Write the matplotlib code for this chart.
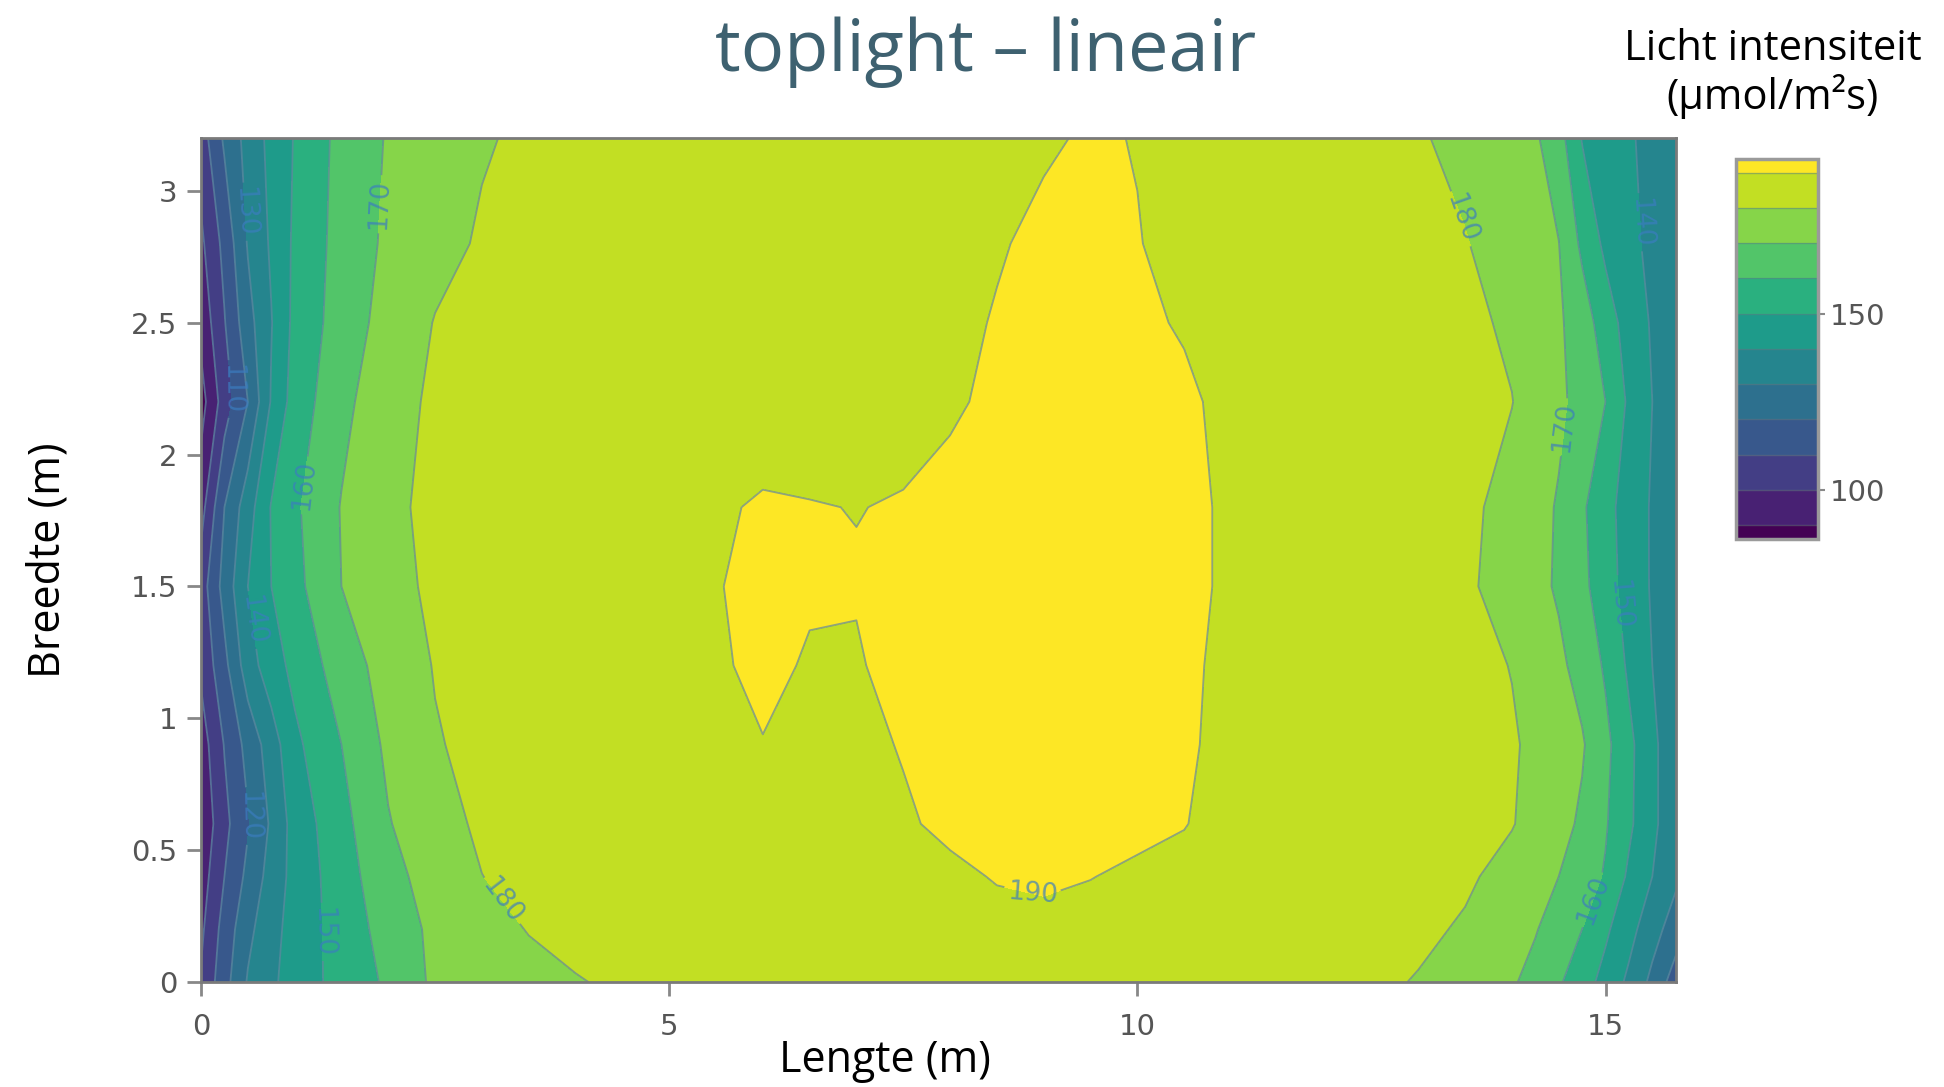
import matplotlib
matplotlib.use("Agg")
import matplotlib.pyplot as plt
import numpy as np

# grid: length (m) along x, width (m) along y
lengte = [0, 0.25, 0.5, 0.75, 1.0, 1.5, 2.0, 2.5, 3.0, 3.5, 4.0,
          5.0, 5.5, 6.0, 6.5, 7.0, 7.5, 8.0, 8.5, 9.0, 9.5, 10.0, 10.5, 11.0, 12.0,
          12.5, 13.0, 13.5, 14.0, 14.25, 14.5, 14.75, 15.0, 15.25, 15.5, 15.75]
breedte = [0, 0.2, 0.4, 0.6, 0.9, 1.2, 1.5, 1.8, 2.2, 2.5, 2.8, 3.2]

# light intensity (umol/m2s), one list per row of width
z_y00 = [101, 116.3, 130.9, 138.2, 144.3, 153.7, 161.6, 172, 174, 177, 179.6,
         182.5, 183.5, 184.5, 185, 185.5, 186, 186.5, 187, 187, 187, 186.5, 186, 185.5, 184,
         182, 179.4, 175.2, 171.0, 167, 161.2, 154.3, 146.7, 138, 127.5, 115]
z_y02 = [98, 113.9, 127.4, 136.7, 143.8, 154.2, 164.0, 172.3, 176.4, 180.4, 182,
         184, 185, 186, 186.5, 187, 187.5, 188, 188.5, 189, 188.6, 188, 187.5, 186.5, 185,
         183.5, 182, 178.9, 173.3, 170.6, 165.6, 160, 151.7, 143.3, 134, 125]
z_y04 = [95, 110, 122.5, 134, 143.3, 155.4, 166.7, 174.3, 179.9, 182.5, 184,
         185.5, 186.5, 187, 187.5, 188, 188.5, 189, 190.3, 190.6, 190.1, 189.3, 188.5, 187.5, 186,
         184.5, 183, 181.5, 176.7, 173.3, 170, 164.8, 159.1, 148.3, 140, 132]
z_y06 = [92, 107.2, 119.1, 131.5, 144, 156.9, 169.4, 176.6, 181.5, 183.5, 185,
         186.5, 187, 187.8, 188.3, 188.8, 189.4, 191, 191.8, 192, 191.8, 191, 190.2, 188, 187,
         185.5, 184, 182.5, 180.5, 176.9, 173.1, 168.5, 160.9, 151.9, 142, 134]
z_y09 = [95, 110.5, 123.3, 135, 147.8, 160, 172, 179.3, 182.5, 184.5, 185.5,
         187, 189, 189.85, 189.5, 188.8, 190.3, 192, 192.8, 193, 193, 192.5, 191, 188, 187.5,
         186, 184.5, 183, 181, 178.1, 174.6, 171, 162.5, 152.5, 142, 134]
z_y12 = [102, 117.2, 135.3, 145.6, 152.7, 164.9, 174.2, 180.5, 183, 185, 186,
         187.5, 189.4, 191, 189.6, 189.6, 191.5, 192.5, 193.2, 193.5, 193.5, 193, 191.5, 188, 188,
         186.5, 185, 183, 179.7, 175.8, 172, 166.5, 158.7, 148.3, 140, 134]
z_y15 = [105, 123.8, 140, 150, 157.1, 170, 177.4, 181.5, 184, 186, 187,
         188, 189.7, 191.5, 190.5, 190.3, 191.8, 193, 193.6, 194, 194, 193.5, 191.5, 189, 188,
         186, 184, 181.5, 176.2, 172.7, 168.8, 162.5, 154.4, 146.1, 139, 134]
z_y18 = [96, 120, 135.6, 150.6, 158.4, 170.5, 178.2, 182, 184.5, 186.5, 187.5,
         188, 189.4, 190.5, 190.2, 189.9, 190.3, 191.5, 192.5, 193.5, 193.8, 193.5, 191.5, 189, 188,
         186, 184, 182, 177, 173.3, 169.1, 161.5, 153.3, 145.7, 139, 134]
z_y22 = [86, 105, 120, 140.8, 154.4, 167.3, 176.6, 181.5, 184, 186, 187,
         187.5, 187.8, 187.5, 187.5, 187.8, 188.5, 189.3, 191, 192.5, 193, 192.5, 191, 188.5, 187.5,
         186, 184.5, 182.5, 180.2, 176.2, 172, 166.6, 160, 148.3, 140, 133]
z_y25 = [93, 109.4, 126.3, 139.5, 152.6, 164.7, 173.7, 180.4, 183.3, 185.5, 186.5,
         187, 187, 187, 187, 187.3, 187.8, 188.5, 190.4, 192, 192.3, 191, 189.5, 188, 187,
         185.5, 184, 182, 178.6, 175, 171.4, 165, 155, 145.7, 139, 133]
z_y28 = [98, 112.9, 130.8, 141.4, 151.7, 163.8, 171.8, 177.1, 181, 183.5, 185,
         186, 186.3, 186.5, 186.7, 187, 187.5, 188.2, 189.5, 191.2, 191.5, 190.2, 188.5, 187.5, 186,
         184.5, 183, 180.5, 175.4, 172.8, 170.2, 158, 147.8, 142.2, 138, 132]
z_y32 = [105, 121.6, 133.6, 142.8, 150.6, 163.1, 170.8, 175, 179.2, 181.5, 183,
         184.5, 185, 185.5, 186, 186.5, 187, 187.5, 188.3, 189.3, 190.6, 189.8, 188, 187, 184.5,
         183, 181, 177.2, 173.2, 171.3, 164, 149.5, 145.2, 141.2, 137, 131]

contour_levels = list(range(90, 200, 10))
cbar_ticks = [100, 150]

# where the line labels sit in the original
label_spots = [(0.43, 2.92), (0.39, 2.25), (1.16, 1.88), (1.86, 2.95), (0.5, 1.37),
               (0.54, 0.63), (1.26, 0.19), (3.15, 0.29), (8.9, 0.36), (13.43, 2.89),
               (14.64, 2.1), (15.08, 1.43), (14.95, 0.3), (15.33, 2.88)]

Z = np.array([z_y00, z_y02, z_y04, z_y06, z_y09, z_y12, z_y15, z_y18,
              z_y22, z_y25, z_y28, z_y32])
X, Y = np.meshgrid(lengte, breedte)

levels = [Z.min()] + contour_levels + [Z.max()]
band_colors = plt.cm.viridis(np.linspace(0, 1, len(levels) - 1))

fig = plt.figure(figsize=(19.44, 10.87), dpi=100)
ax = fig.add_axes([0.1034, 0.0966, 0.7586, 0.7764])

cf = ax.contourf(X, Y, Z, levels=levels, colors=band_colors)
cl = ax.contour(X, Y, Z, levels=contour_levels, colors="#5f86a0",
                linewidths=1.3, alpha=0.7)
lbls = ax.clabel(cl, fmt="%d", fontsize=19, colors="#3b7dc0",
                 inline=True, inline_spacing=4, manual=label_spots)

ax.set_xlim(0, 15.75)
ax.set_ylim(0, 3.2)
ax.set_xticks([0, 5, 10, 15])
ax.set_yticks([0, 0.5, 1, 1.5, 2, 2.5, 3])
ax.set_yticklabels(["0", "0.5", "1", "1.5", "2", "2.5", "3"])
ax.tick_params(axis="both", length=10, width=2, color="#888888",
               labelsize=21, labelcolor="#555555")
ax.tick_params(axis="x", pad=12)
ax.tick_params(axis="y", pad=7)
for s in ax.spines.values():
    s.set_color("#7a7a7a")
    s.set_linewidth(2)

fig.text(0.507, 0.952, "toplight \u2013 lineair", ha="center", va="center",
         fontsize=52, color="#3e6170", family="Open Sans")
fig.text(0.455, 0.024, "Lengte (m)", ha="center", va="center",
         fontsize=31, color="black", family="Open Sans")
fig.text(0.025, 0.485, "Breedte (m)", ha="center", va="center", rotation=90,
         fontsize=31, color="black", family="Open Sans")

# colorbar
cax = fig.add_axes([0.893, 0.504, 0.042, 0.35])
cb = fig.colorbar(cf, cax=cax, spacing="proportional", ticks=cbar_ticks,
                  drawedges=True)
cb.outline.set_edgecolor("#9a9a9a")
cb.outline.set_linewidth(2.5)
cb.dividers.set_color("#5f7f7f")
cb.dividers.set_alpha(0.5)
cb.dividers.set_linewidth(1)
cax.tick_params(length=5, width=1.5, color="#888888", labelsize=21,
                labelcolor="#555555", pad=4)
fig.text(0.912, 0.955, "Licht intensiteit", ha="center", va="center",
         fontsize=30, color="black", family="Open Sans")
fig.text(0.912, 0.911, "(\u00b5mol/m\u00b2s)", ha="center", va="center",
         fontsize=30, color="black", family="Open Sans")

fig.savefig("out.png", dpi=100)
